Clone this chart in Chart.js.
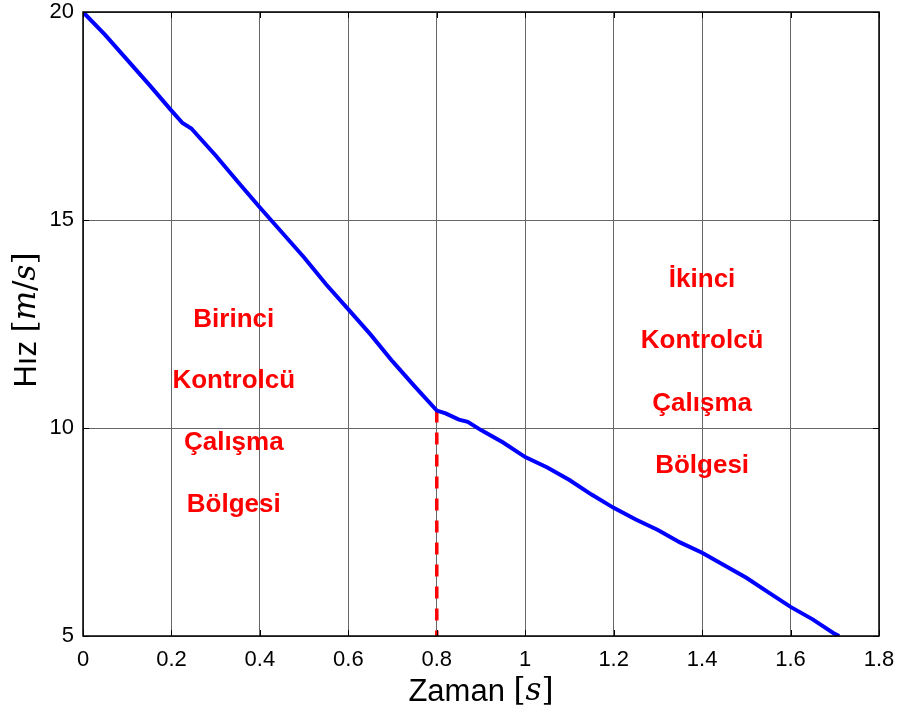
<!DOCTYPE html>
<html>
<head>
<meta charset="utf-8">
<script src="https://cdn.jsdelivr.net/npm/chart.js@4"></script>
<style>
  html, body { margin: 0; padding: 0; background: #fff; }
  #wrap { width: 898px; height: 718px; }
</style>
</head>
<body>
<div id="wrap"><canvas id="hizChart"></canvas></div>
<script>
// velocity trace, time in s, speed in m/s
const zaman = [0, 0.05, 0.1, 0.15, 0.2, 0.225, 0.245, 0.3, 0.35, 0.4, 0.45, 0.5, 0.55, 0.6, 0.65,
  0.7, 0.75, 0.8, 0.82, 0.85, 0.87, 0.9, 0.95, 1.0, 1.05, 1.1, 1.15, 1.2, 1.25, 1.3, 1.35,
  1.4, 1.45, 1.5, 1.55, 1.6, 1.65, 1.7, 1.71];
const hiz = [20.0, 19.45, 18.85, 18.25, 17.63, 17.33, 17.2, 16.55, 15.92, 15.3, 14.7, 14.1, 13.45, 12.85, 12.25,
  11.6, 11.0, 10.42, 10.35, 10.2, 10.15, 9.95, 9.65, 9.3, 9.05, 8.75, 8.4, 8.08, 7.8, 7.55, 7.25,
  7.0, 6.7, 6.4, 6.05, 5.7, 5.4, 5.05, 5.0];

// controller switch instant
const gecisZamani = 0.8;
const gecisHizi = 10.42;

const xTicks = [0, 0.2, 0.4, 0.6, 0.8, 1.0, 1.2, 1.4, 1.6, 1.8];
const yTicks = [5, 10, 15, 20];

// region annotations: [text, x, y]
const bolgeYazilari = [
  ['Birinci', 0.341, 12.6],
  ['Kontrolcü', 0.341, 11.13],
  ['Çalışma', 0.341, 9.64],
  ['Bölgesi', 0.341, 8.15],
  ['İkinci', 1.40, 13.56],
  ['Kontrolcü', 1.40, 12.09],
  ['Çalışma', 1.40, 10.58],
  ['Bölgesi', 1.40, 9.09]
];

const points = zaman.map((t, i) => ({ x: t, y: hiz[i] }));

// draws mixed-font text pieces centered at (cx, cy)
function drawPieces(ctx, pieces, cx, cy) {
  let total = 0;
  pieces.forEach(p => { ctx.font = p.font; total += ctx.measureText(p.text).width; });
  let x = cx - total / 2;
  ctx.textAlign = 'left';
  ctx.textBaseline = 'middle';
  pieces.forEach(p => {
    ctx.font = p.font;
    ctx.fillText(p.text, x, cy);
    x += ctx.measureText(p.text).width;
  });
}

const frame = {
  id: 'frame',
  afterDatasetsDraw(chart) {
    const { ctx, chartArea: a, scales } = chart;
    ctx.save();
    // region labels
    ctx.fillStyle = '#ff0000';
    ctx.font = 'bold 26px "Liberation Sans", Arial, sans-serif';
    ctx.textAlign = 'center';
    ctx.textBaseline = 'middle';
    bolgeYazilari.forEach(([txt, x, y]) => {
      ctx.fillText(txt, scales.x.getPixelForValue(x), scales.y.getPixelForValue(y));
    });

    // box
    ctx.strokeStyle = '#000';
    ctx.lineWidth = 1.5;
    ctx.strokeRect(a.left, a.top, a.right - a.left, a.bottom - a.top);

    // inward ticks
    ctx.lineWidth = 1;
    const len = 6;
    xTicks.forEach(v => {
      const px = Math.round(scales.x.getPixelForValue(v)) + 0.5;
      ctx.beginPath();
      ctx.moveTo(px, a.bottom); ctx.lineTo(px, a.bottom - len);
      ctx.moveTo(px, a.top); ctx.lineTo(px, a.top + len);
      ctx.stroke();
    });
    yTicks.forEach(v => {
      const py = Math.round(scales.y.getPixelForValue(v)) + 0.5;
      ctx.beginPath();
      ctx.moveTo(a.left, py); ctx.lineTo(a.left + len, py);
      ctx.moveTo(a.right, py); ctx.lineTo(a.right - len, py);
      ctx.stroke();
    });

    // axis titles
    ctx.fillStyle = '#000';
    const sans = '31px "Liberation Sans", Arial, sans-serif';
    const serif = '31px "DejaVu Serif", "Liberation Serif", serif';
    const serifIt = 'italic 31px "DejaVu Serif", "Liberation Serif", serif';
    drawPieces(ctx, [
      { text: 'Zaman ', font: sans },
      { text: '[', font: serif },
      { text: 's', font: serifIt },
      { text: ']', font: serif }
    ], (a.left + a.right) / 2, 692);

    ctx.translate(27, (a.top + a.bottom) / 2 - 4);
    ctx.rotate(-Math.PI / 2);
    drawPieces(ctx, [
      { text: 'Hız ', font: sans },
      { text: '[', font: serif },
      { text: 'm', font: serifIt },
      { text: '/', font: serif },
      { text: 's', font: serifIt },
      { text: ']', font: serif }
    ], 0, 0);
    ctx.restore();
  }
};

const tickFont = { family: '"Liberation Sans", Arial, sans-serif', size: 22 };
const gridStyle = { color: '#666', borderDash: [1, 2], lineWidth: 1, drawTicks: false };

new Chart(document.getElementById('hizChart').getContext('2d'), {
  type: 'scatter',
  data: {
    datasets: [
      {
        data: points,
        showLine: true,
        borderColor: '#0000ff',
        borderWidth: 4,
        pointRadius: 0,
        tension: 0,
        fill: false
      },
      {
        data: [{ x: gecisZamani, y: gecisHizi }, { x: gecisZamani, y: 5 }],
        showLine: true,
        borderColor: '#ff0000',
        borderWidth: 3.5,
        borderDash: [12, 10],
        pointRadius: 0,
        fill: false
      }
    ]
  },
  options: {
    responsive: true,
    maintainAspectRatio: false,
    animation: false,
    layout: { padding: { top: 12, right: 19, left: 0, bottom: 0 } },
    plugins: { legend: { display: false }, tooltip: { enabled: false } },
    scales: {
      x: {
        type: 'linear',
        min: 0,
        max: 1.8,
        afterBuildTicks(scale) { scale.ticks = xTicks.map(v => ({ value: v })); },
        afterFit(scale) {
          scale.height = 82;
          scale.paddingLeft = 0;
          scale.paddingRight = 0;
        },
        border: { display: false },
        grid: gridStyle,
        ticks: {
          color: '#000',
          padding: 11,
          font: tickFont,
          callback: v => String(Math.round(v * 10) / 10)
        }
      },
      y: {
        type: 'linear',
        min: 5,
        max: 20,
        afterBuildTicks(scale) { scale.ticks = yTicks.map(v => ({ value: v })); },
        afterFit(scale) {
          scale.width = 83;
          scale.paddingTop = 0;
          scale.paddingBottom = 0;
        },
        border: { display: false },
        grid: gridStyle,
        ticks: {
          color: '#000',
          padding: 9,
          font: tickFont
        }
      }
    }
  },
  plugins: [frame]
});
</script>
</body>
</html>
